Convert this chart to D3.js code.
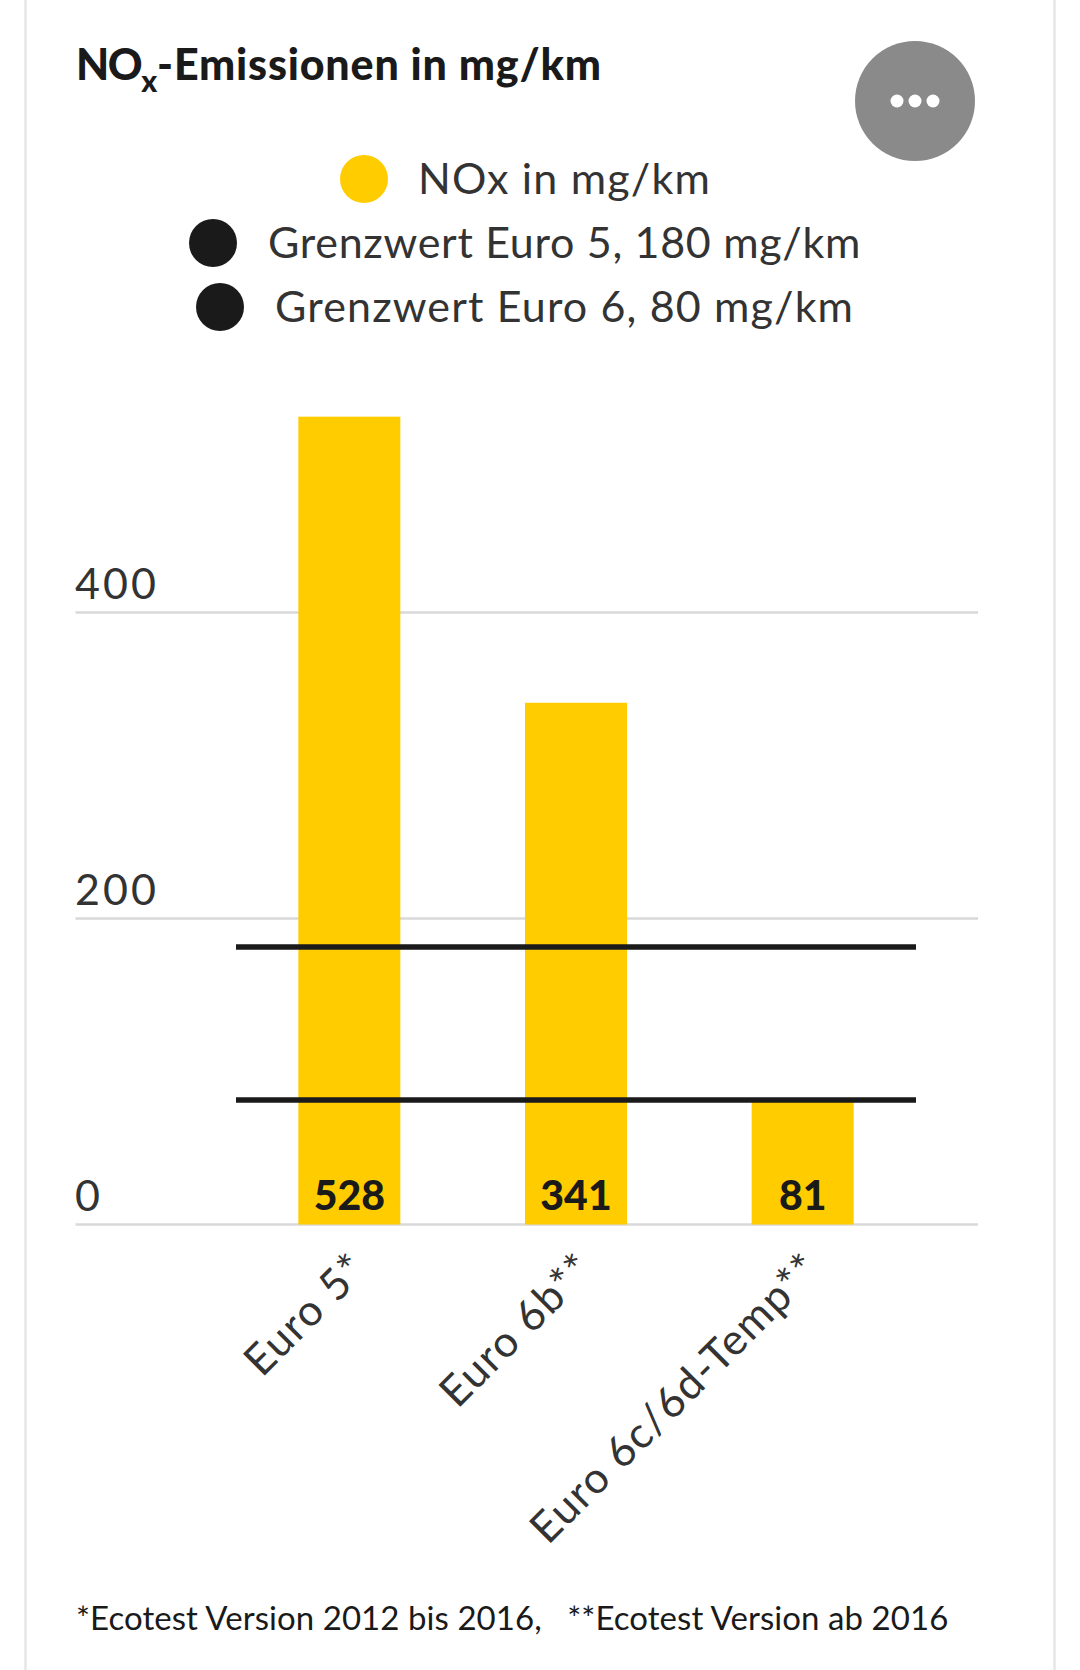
<!DOCTYPE html>
<html>
<head>
<meta charset="utf-8">
<script src="https://cdn.jsdelivr.net/npm/d3@7"></script>
<style>
  html, body { margin: 0; padding: 0; background: #fff; }
  svg { display: block; font-family: Lato, sans-serif; }
  text { white-space: pre; }
</style>
</head>
<body>
<div id="chart"></div>
<script>
const width = 1080;
const height = 1670;

const categories = ["Euro 5*", "Euro 6b**", "Euro 6c/6d-Temp**"];
const noxValues = [528, 341, 81];
const limitValues = [180, 80];
const yTicks = [0, 200, 400];
const legendLabels = ["NOx in mg/km", "Grenzwert Euro 5, 180 mg/km", "Grenzwert Euro 6, 80 mg/km"];
const legendColors = ["#ffcc00", "#1a1a1a", "#1a1a1a"];
const footnote = "*Ecotest Version 2012 bis 2016,   **Ecotest Version ab 2016";

const svg = d3
  .select("#chart")
  .append("svg")
  .attr("width", width)
  .attr("height", height)
  .attr("viewBox", `0 0 ${width} ${height}`);

// card edges
svg.append("rect").attr("x", 25.5).attr("y", -5).attr("width", 1029).attr("height", 1690)
  .attr("fill", "#fff").attr("stroke", "#e6e6e6").attr("stroke-width", 2.5);

// title
const title = svg.append("text").attr("x", 76).attr("y", 79.5)
  .attr("font-size", 43).attr("font-weight", 900).attr("fill", "#1a1a1a");
title.append("tspan").text("NO").attr("letter-spacing", -1.5);
title.append("tspan").text("x").attr("font-size", 30).attr("dy", 12);
title.append("tspan").text("-Emissionen in mg/km").attr("dy", -12).attr("letter-spacing", 0.8);

// menu button
svg.append("circle").attr("cx", 915).attr("cy", 101).attr("r", 60).attr("fill", "#8a8a8a");
svg.selectAll(".dot").data([-18, 0, 18]).enter().append("circle")
  .attr("class", "dot").attr("cx", (d) => 915 + d).attr("cy", 101).attr("r", 6.5).attr("fill", "#fff");

// legend
const legendRows = [
  { text: 418, dot: 364, y: 179, spacing: 1.2 },
  { text: 268, dot: 213, y: 243, spacing: 0.7 },
  { text: 275, dot: 220, y: 307, spacing: 1.15 },
];
legendLabels.forEach((label, i) => {
  const r = legendRows[i];
  svg.append("circle").attr("cx", r.dot).attr("cy", r.y).attr("r", 24).attr("fill", legendColors[i]);
  svg.append("text").attr("x", r.text).attr("y", r.y + 14.5)
    .attr("font-size", 43).attr("letter-spacing", r.spacing).attr("fill", "#333").text(label);
});

const x = d3.scaleBand().domain(categories).range([236, 916]).paddingInner(0.55).paddingOuter(0.275);
const y = d3.scaleLinear().domain([0, 400]).range([1224.5, 612.5]);

// grid
svg.selectAll(".grid").data(yTicks).enter().append("line").attr("class", "grid")
  .attr("x1", 75.5).attr("x2", 978).attr("y1", (d) => y(d)).attr("y2", (d) => y(d))
  .attr("stroke", "#d9d9d9").attr("stroke-width", 2.5);
svg.selectAll(".ylab").data(yTicks).enter().append("text").attr("class", "ylab")
  .attr("x", 75).attr("y", (d) => y(d) - 14)
  .attr("font-size", 43).attr("letter-spacing", 3).attr("fill", "#333").text((d) => d);

// bars
svg.selectAll(".bar").data(noxValues).enter().append("rect").attr("class", "bar")
  .attr("x", (d, i) => x(categories[i])).attr("width", x.bandwidth())
  .attr("y", (d) => y(d)).attr("height", (d) => y(0) - y(d)).attr("fill", "#ffcc00");
svg.selectAll(".val").data(noxValues).enter().append("text").attr("class", "val")
  .attr("x", (d, i) => x(categories[i]) + x.bandwidth() / 2).attr("y", 1210)
  .attr("text-anchor", "middle").attr("font-size", 41).attr("font-weight", 900)
  .attr("fill", "#1a1a1a").text((d) => d);

// limit lines
svg.selectAll(".limit").data(limitValues).enter().append("line").attr("class", "limit")
  .attr("x1", 236).attr("x2", 916).attr("y1", (d) => y(d) - 2).attr("y2", (d) => y(d) - 2)
  .attr("stroke", "#1a1a1a").attr("stroke-width", 5.5);

// x labels
svg.selectAll(".xlab").data(categories).enter().append("text").attr("class", "xlab")
  .attr("transform", (d) => `translate(${x(d) + x.bandwidth() / 2 + 20},1271) rotate(-45)`)
  .attr("text-anchor", "end").attr("font-size", 43).attr("letter-spacing", 1.5).attr("fill", "#333").text((d) => d);

svg.append("text").attr("x", 76).attr("y", 1630).attr("font-size", 33).attr("letter-spacing", 0.06).attr("fill", "#1a1a1a")
  .text(footnote);
</script>
</body>
</html>
